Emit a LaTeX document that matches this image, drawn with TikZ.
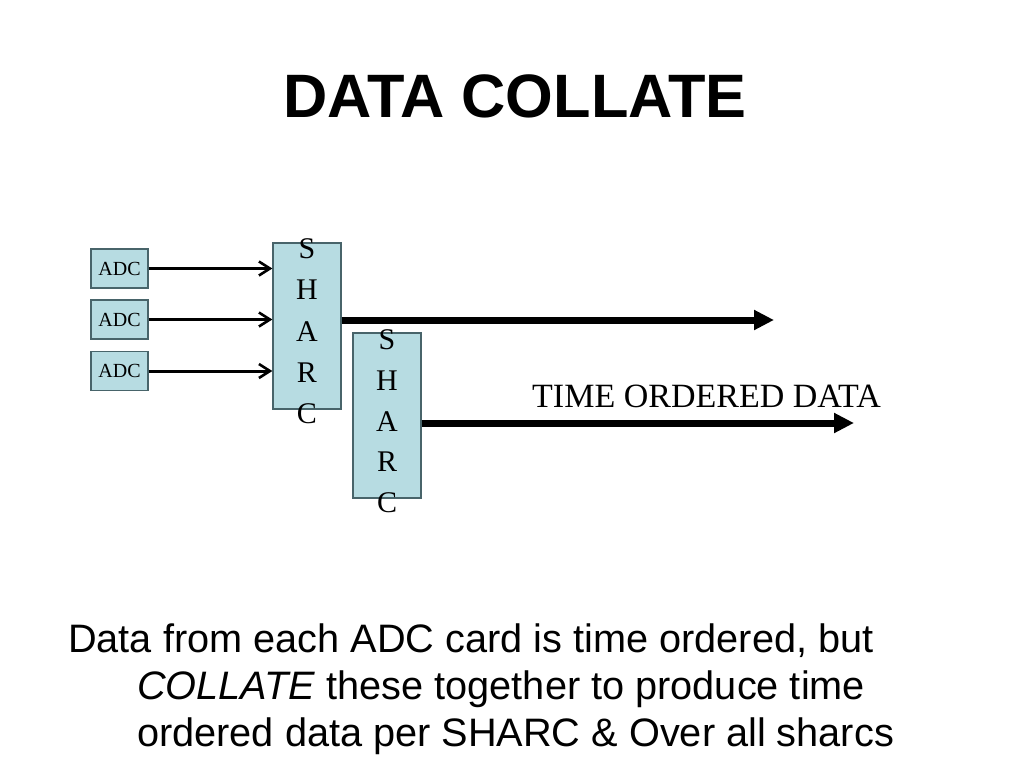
\documentclass[tikz,border=0pt]{standalone}
\usepackage{fontspec}
\setmainfont{Liberation Serif}
\setsansfont{Liberation Sans}
\usetikzlibrary{arrows.meta}
\definecolor{boxfill}{RGB}{183,220,226}
\definecolor{boxline}{RGB}{72,100,106}
\tikzset{
  x=1pt, y=-1pt,
  adcbox/.style={draw=boxline, line width=1.3pt, fill=boxfill, minimum width=57pt, minimum height=39pt, inner sep=0pt, font=\fontsize{20}{22}\selectfont},
  sharcbox/.style={draw=boxline, line width=1.3pt, fill=boxfill, minimum width=68pt, inner sep=0pt},
  sharcletter/.style={inner sep=0pt, font=\fontsize{30}{32}\selectfont},
  thinarrow/.style={line width=3pt, -{Straight Barb[length=11pt,width=14pt,line width=2.6pt]}},
  thickarrow/.style={line width=7pt, -{Triangle[length=20pt,width=19pt]}, shorten >=-1pt},
  bodytext/.style={inner sep=0pt, anchor=base west, font=\sffamily\fontsize{39.7}{47}\selectfont},
}
\begin{document}
\begin{tikzpicture}
\useasboundingbox (0,0) rectangle (1024,768);
% title
\node[inner sep=0pt, anchor=base, font=\sffamily\bfseries\fontsize{61.3}{70}\selectfont] (title) at (515,117) {DATA COLLATE};
% ADC boxes
\node[adcbox] (adc1) at (119.5,268.5) {ADC};
\node[adcbox] (adc2) at (119.5,319.5) {ADC};
\node[adcbox] (adc3) at (119.5,371) {ADC};
% SHARC boxes
\node[sharcbox, minimum height=166pt] (sharc1) at (307,326) {};
\node[sharcbox, minimum height=165pt] (sharc2) at (387,415.5) {};
\foreach \l [count=\i from 0] in {S,H,A,R,C}
  \node[sharcletter] (s1-\i) at (307,{248.5+41.3*\i}) {\l};
\foreach \l [count=\i from 0] in {S,H,A,R,C}
  \node[sharcletter] (s2-\i) at (387,{340+40.6*\i}) {\l};
% ADC -> SHARC
\draw[thinarrow] (adc1) -- (adc1 -| sharc1.west);
\draw[thinarrow] (adc2) -- (adc2 -| sharc1.west);
\draw[thinarrow] (adc3) -- (adc3 -| sharc1.west);
% outputs
\coordinate (out1) at (773,320);
\coordinate (out2) at (853,423);
\draw[thickarrow] (sharc1.east |- out1) -- (out1);
\draw[thickarrow] (sharc2.east |- out2) -- (out2);
\node[inner sep=0pt, anchor=base west, font=\fontsize{34}{36}\selectfont] (tod) at (532,407) {TIME ORDERED DATA};
% body text
\node[bodytext] (line1) at (68,652) {Data from each ADC card is time ordered, but};
\node[bodytext] (line2) at (137,699) {\textit{COLLATE} these together to produce time};
\node[bodytext] (line3) at (137,746) {ordered data per SHARC \& Over all sharcs};
\end{tikzpicture}
\end{document}
